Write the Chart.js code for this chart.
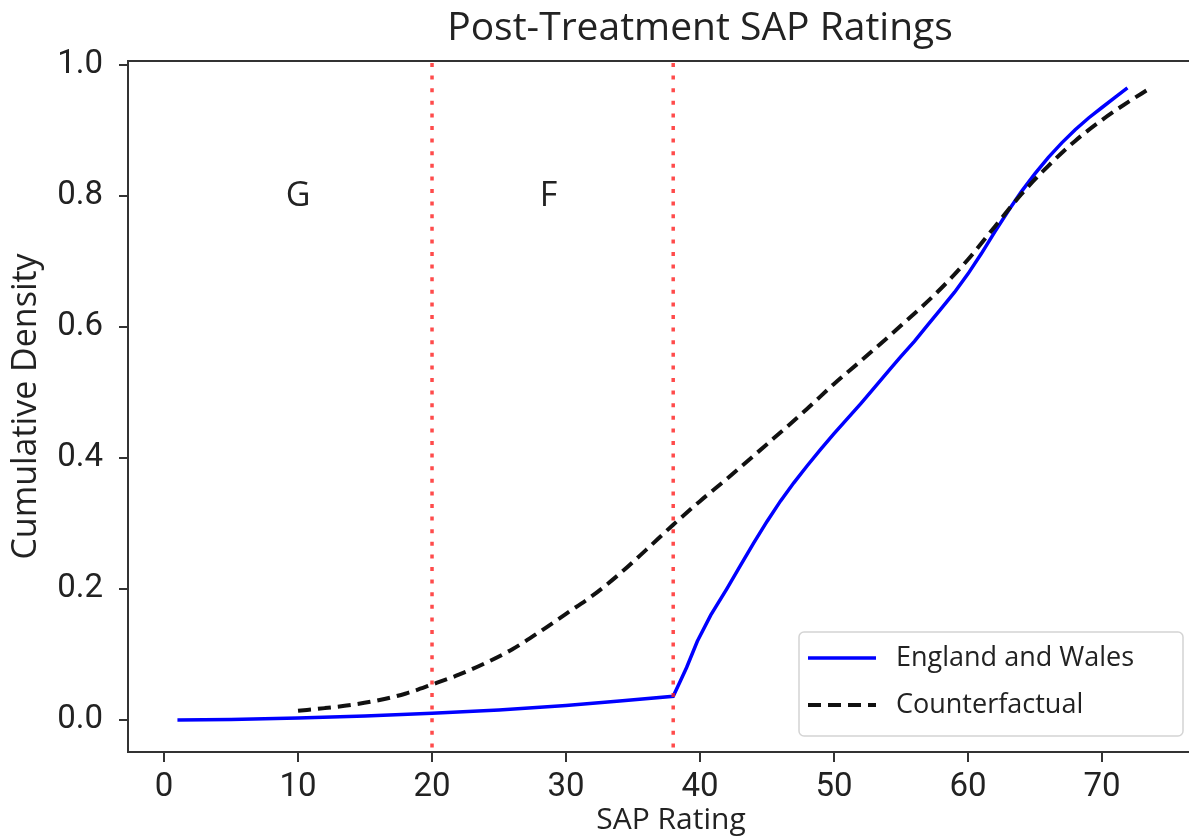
<!DOCTYPE html>
<html><head><meta charset="utf-8">
<script src="https://cdn.jsdelivr.net/npm/chart.js@4"></script>
<style>
html,body{margin:0;padding:0;background:#fff;overflow:hidden;}
#wrap{width:1400px;height:836px;position:relative;}
</style></head><body>
<div id="wrap"><canvas id="c" width="1400" height="836"></canvas></div>
<script>
const chartTitle = 'Post-Treatment SAP Ratings';
const xAxisTitle = 'SAP Rating';
const yAxisTitle = 'Cumulative Density';
const seriesNames = ['England and Wales', 'Counterfactual'];
const xTicks = [0, 10, 20, 30, 40, 50, 60, 70];
const yTicks = [0, 0.2, 0.4, 0.6, 0.8, 1.0];
const xRange = [-2.69, 78.36];
const yRange = [-0.049, 1.006];

const ewX = [1, 5, 10, 15, 20, 25, 30, 34, 38, 38.5, 39, 39.8, 40.8, 42, 43, 44, 45, 46, 47, 48, 49, 50, 51, 52, 53, 54.2, 55, 56, 57, 58, 59, 60, 61, 62, 63, 64, 65, 66, 67, 68, 69, 70, 71, 71.9];
const ewY = [0, 0.0008, 0.003, 0.006, 0.010, 0.015, 0.022, 0.029, 0.036, 0.058, 0.080, 0.120, 0.160, 0.200, 0.235, 0.270, 0.303, 0.334, 0.362, 0.388, 0.413, 0.437, 0.460, 0.483, 0.507, 0.536, 0.555, 0.578, 0.603, 0.628, 0.653, 0.681, 0.712, 0.745, 0.777, 0.807, 0.834, 0.859, 0.881, 0.901, 0.919, 0.935, 0.951, 0.965];

const cfX = [10, 12, 14, 16, 18, 20, 22, 24, 26, 28, 30, 32, 34, 36, 38, 40, 42, 45, 48, 50, 52, 55, 58, 60, 62, 64, 66, 68, 70, 72, 73.4];
const cfY = [0.014, 0.018, 0.023, 0.030, 0.040, 0.054, 0.069, 0.087, 0.108, 0.134, 0.162, 0.190, 0.223, 0.260, 0.298, 0.334, 0.368, 0.421, 0.475, 0.513, 0.548, 0.602, 0.659, 0.703, 0.753, 0.803, 0.846, 0.884, 0.916, 0.944, 0.962];

const bandEdges = [20, 38];
const bandLabels = ['G', 'F'];
const bandLabelX = [10, 28.7];
const bandLabelY = [0.8, 0.8];

const TEXT = '#222';
const AXIS = '#333';
const SANS = '"Open Sans", "Noto Sans", sans-serif';
const TICKFONT = 'Roboto, "Open Sans", sans-serif';

const overlay = {
  id: 'overlay',
  afterDatasetsDraw(chart) {
    const {ctx, chartArea: a, scales: {x, y}} = chart;
    ctx.save();
    // top spine
    ctx.strokeStyle = AXIS; ctx.lineWidth = 2;
    ctx.beginPath(); ctx.moveTo(a.left - 1, a.top); ctx.lineTo(a.right, a.top); ctx.stroke();
    // dotted band boundaries
    ctx.strokeStyle = 'rgba(255,30,30,0.8)'; ctx.lineWidth = 3.5; ctx.setLineDash([4, 8.6]);
    bandEdges.forEach(v => {
      const px = x.getPixelForValue(v);
      ctx.beginPath(); ctx.moveTo(px, a.top + 2); ctx.lineTo(px, a.bottom); ctx.stroke();
    });
    ctx.setLineDash([]);
    // band labels
    ctx.fillStyle = TEXT; ctx.font = '34px ' + SANS; ctx.textAlign = 'center'; ctx.textBaseline = 'middle';
    bandLabels.forEach((t, i) => ctx.fillText(t, x.getPixelForValue(bandLabelX[i]), y.getPixelForValue(bandLabelY[i])));
    // legend box
    const w = 384, h = 104;
    const lx = a.right - 31 - w, ly = a.bottom - 16 - h;
    ctx.beginPath();
    ctx.roundRect(lx, ly, w, h, 5);
    ctx.fillStyle = 'rgba(255,255,255,0.85)'; ctx.fill();
    ctx.strokeStyle = '#d4d4d4'; ctx.lineWidth = 1.5; ctx.stroke();
    const rows = [ly + 26, ly + 73];
    const ds = chart.data.datasets;
    rows.forEach((ry, i) => {
      ctx.strokeStyle = ds[i].borderColor; ctx.lineWidth = ds[i].borderWidth;
      ctx.setLineDash(ds[i].borderDash || []);
      ctx.beginPath(); ctx.moveTo(lx + 9, ry); ctx.lineTo(lx + 77, ry); ctx.stroke();
      ctx.setLineDash([]);
      ctx.fillStyle = TEXT; ctx.font = '27px ' + SANS; ctx.textAlign = 'left'; ctx.textBaseline = 'middle';
      ctx.fillText(seriesNames[i], lx + 97, ry);
    });
    ctx.restore();
  }
};

new Chart(document.getElementById('c'), {
  type: 'line',
  data: {
    datasets: [
      {label: seriesNames[0], data: ewX.map((v, i) => ({x: v, y: ewY[i]})), borderColor: '#0000ff', borderWidth: 3.5,
       pointRadius: 0, tension: 0, fill: false, order: 2},
      {label: seriesNames[1], data: cfX.map((v, i) => ({x: v, y: cfY[i]})), borderColor: '#111111', borderWidth: 4,
       borderDash: [13, 7], pointRadius: 0, cubicInterpolationMode: 'monotone', fill: false, order: 1}
    ]
  },
  options: {
    responsive: false, animation: false, devicePixelRatio: 1,
    layout: {padding: 0},
    plugins: {
      legend: {display: false}, tooltip: {enabled: false},
      title: {display: true, text: chartTitle, color: TEXT, font: {family: SANS, size: 39, weight: 'normal'}, padding: {top: 5, bottom: 9.2}}
    },
    scales: {
      x: {
        type: 'linear', min: xRange[0], max: xRange[1],
        afterFit(s) { s.height = 84; },
        afterBuildTicks(s) { s.ticks = xTicks.map(v => ({value: v})); },
        ticks: {font: {family: TICKFONT, size: 33}, color: TEXT, padding: 6, maxRotation: 0, autoSkip: false, callback: v => String(v)},
        grid: {display: true, drawOnChartArea: false, drawTicks: true, tickLength: 10, color: AXIS, lineWidth: 2},
        border: {display: true, color: AXIS, width: 2},
        title: {display: true, text: xAxisTitle, color: TEXT, font: {family: SANS, size: 30}, padding: {top: 0, bottom: -2}}
      },
      y: {
        type: 'linear', min: yRange[0], max: yRange[1],
        afterFit(s) { s.width = 128; },
        afterBuildTicks(s) { s.ticks = yTicks.map(v => ({value: v})); },
        ticks: {font: {family: TICKFONT, size: 33}, color: TEXT, padding: 16, autoSkip: false, callback: v => Number(v).toFixed(1)},
        grid: {display: true, drawOnChartArea: false, drawTicks: true, tickLength: 9, color: AXIS, lineWidth: 2},
        border: {display: true, color: AXIS, width: 2},
        title: {display: true, text: yAxisTitle, color: TEXT, font: {family: SANS, size: 34}, padding: {top: 6, bottom: 0}}
      },
      y2: {
        position: 'right', display: true,
        afterFit(s) { s.width = 186; },
        grid: {display: false}, ticks: {display: false}, border: {display: false}
      }
    }
  },
  plugins: [overlay]
});
</script>
</body></html>
